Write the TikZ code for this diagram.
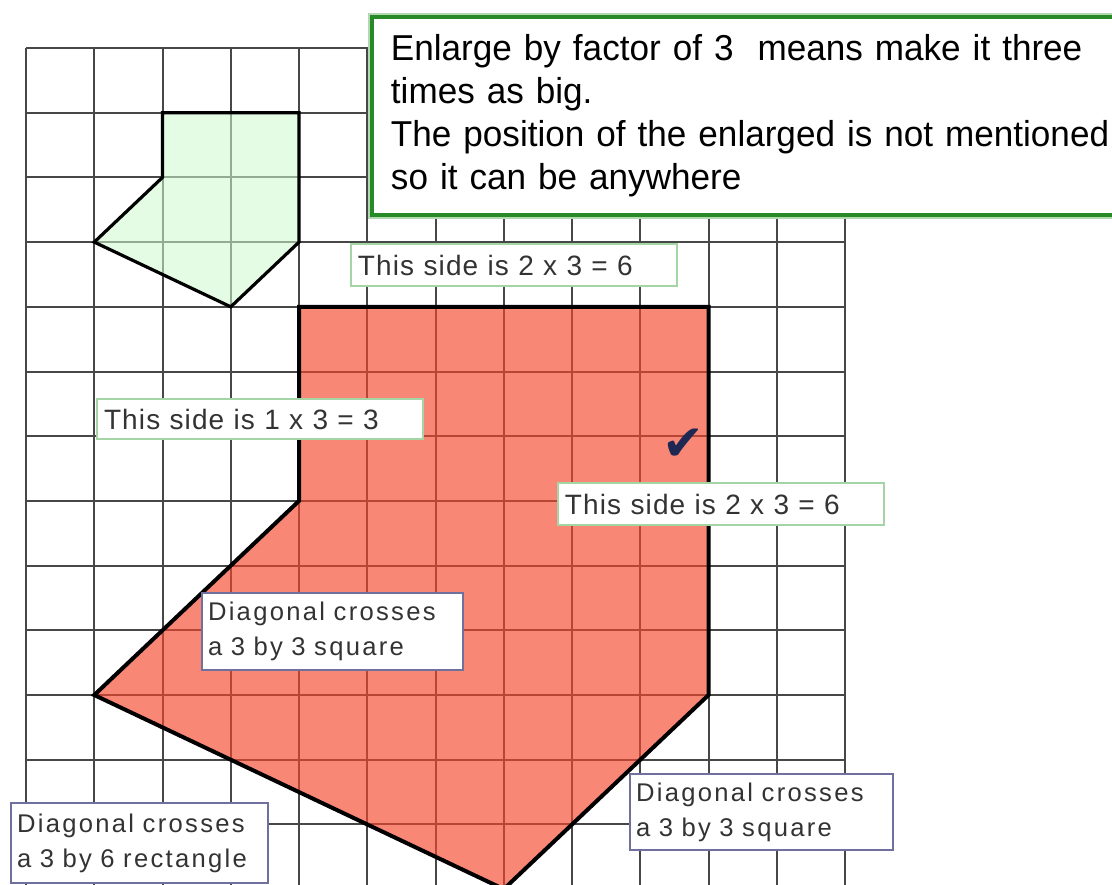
\documentclass[tikz,border=0pt]{standalone}
\usepackage{fontspec}
\setmainfont{Liberation Sans}
\newfontfamily\notefont[FakeStretch=0.975]{Liberation Sans}
\newfontfamily\sidefont[LetterSpace=4]{Liberation Sans}
\newfontfamily\diagfont[LetterSpace=9]{Liberation Sans}
\newfontfamily\symfont{DejaVu Sans}
\usepackage{xcolor}
\definecolor{gridgray}{HTML}{474747}
\definecolor{bigfill}{RGB}{246,70,45}
\definecolor{smallfill}{RGB}{207,248,207}
\definecolor{notegreen}{RGB}{38,138,38}
\definecolor{tipgreen}{RGB}{165,212,165}
\definecolor{tipblue}{RGB}{112,112,158}
\definecolor{tiptext}{HTML}{333333}
\definecolor{tickblue}{RGB}{30,40,82}
\usepackage{tikz}
\usetikzlibrary{positioning}

\begin{document}
\begin{tikzpicture}[
            x=34.125pt, y=-32.35pt,
            gridline/.style={draw=gridgray, line width=1pt},
            outline/.style={draw=black, line width=2pt, line join=miter},
            notebox/.style={rectangle, draw=notegreen, fill=white, line width=2pt, anchor=north west, text width=380pt, inner xsep=9.5pt, minimum height=99pt, align=left, font=\notefont\fontsize{18}{21.5}\selectfont, preaction={draw=notegreen!35, line width=3.6pt}},
            sidetip/.style={rectangle, draw=tipgreen, fill=white, line width=1pt, anchor=north west, inner xsep=3.5pt, inner ysep=0pt, minimum height=21pt, align=left, text=tiptext, font=\sidefont\fontsize{14}{17}\selectfont},
            diagtip/.style={rectangle, draw=tipblue, fill=white, line width=1pt, anchor=north west, inner xsep=3pt, inner ysep=0pt, align=left, text=tiptext, font=\diagfont\fontsize{12.8}{17.5}\selectfont}
        ]
            \useasboundingbox (-0.381,-0.742) rectangle (15.912,12.921);
            \begin{scope}
            \clip (-0.381,-0.742) rectangle (15.912,12.921);
            % Grid
            \foreach \i in {0,...,12}
                \draw[gridline] (\i,0) -- (\i,13.5);
            \foreach \j in {0,...,13}
                \draw[gridline] (0,\j) -- (12,\j);

            % Original shape
            \fill[smallfill, fill opacity=0.56] (2,1) -- (4,1) -- (4,3) -- (3,4) -- (1,3) -- (2,2) -- cycle;
            \draw[outline, line width=1.6pt] (2,1) -- (4,1) -- (4,3) -- (3,4) -- (1,3) -- (2,2) -- cycle;

            % Enlarged shape
            \fill[bigfill, fill opacity=0.65] (4,4) -- (10,4) -- (10,10) -- (7,13) -- (1,10) -- (4,7) -- cycle;
            \draw[outline] (4,4) -- (10,4) -- (10,10) -- (7,13) -- (1,10) -- (4,7) -- cycle;

            % Notes
            \node[notebox] (note) at (5.040,-0.510) {Enlarge by factor of 3\ \ means make it three\\ times as big.\\ The position of the enlarged is not mentioned\\ so it can be anywhere};
            \node[sidetip, text width=156pt] (topside) at (4.747,3.014) {This side is 2 x 3 = 6};
            \node[sidetip, text width=156pt, minimum height=20pt] (leftside) at (1.026,5.410) {This side is 1 x 3 = 3};
            \node[sidetip, text width=156pt] (rightside) at (7.780,6.708) {This side is 2 x 3 = 6};
            \node[diagtip, text width=124.5pt, minimum height=38.5pt] (upperdiag) at (2.564,8.408) {Diagonal crosses\\ a 3 by 3 square};
            \node[diagtip, text width=122.5pt, minimum height=40pt] (longdiag) at (-0.234,11.654) {Diagonal crosses\\ a 3 by 6 rectangle};
            \node[diagtip, text width=125.5pt, minimum height=38pt] (lowerdiag) at (8.835,11.206) {Diagonal crosses\\ a 3 by 3 square};

            % Tick
            \node[text=tickblue, font=\symfont\fontsize{25}{25}\selectfont] (tick) at (9.626,6.136) {✔};
            \end{scope}
        \end{tikzpicture}
\end{document}
